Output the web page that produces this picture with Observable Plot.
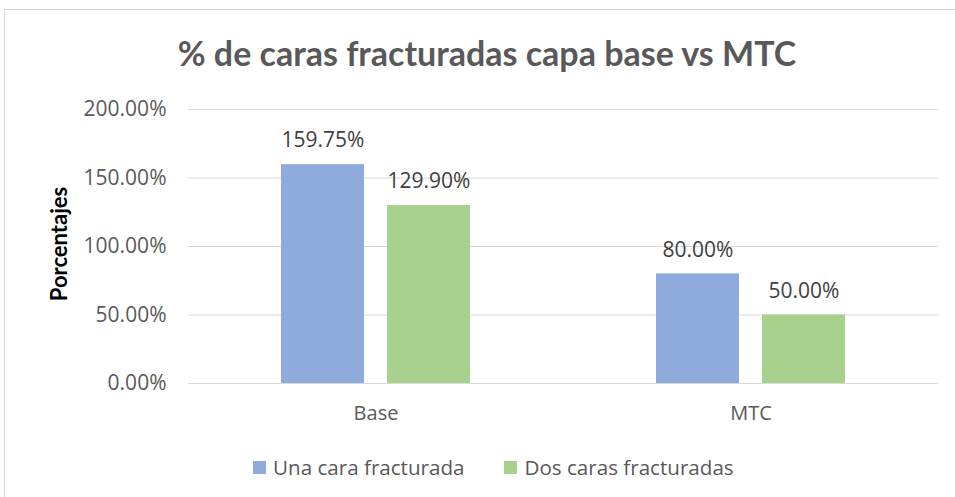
<!DOCTYPE html>
<html>
<head>
<meta charset="utf-8">
<script src="https://cdn.jsdelivr.net/npm/d3@7"></script>
<script src="https://cdn.jsdelivr.net/npm/@observablehq/plot@0.6"></script>
<style>
  body { margin: 0; background: #fff; }
  #wrap { position: relative; width: 955px; height: 497px; overflow: hidden; font-family: "Open Sans", sans-serif; }
  #frame { position: absolute; left: 4px; top: 9px; width: 980px; height: 520px; border: 1px solid #d9d9d9; box-sizing: border-box; }
  #title { position: absolute; left: 0; width: 974px; top: 32px; text-align: center; font-family: Lato, sans-serif; font-weight: bold; font-size: 34px; color: #595959; }
  #ylabel { position: absolute; left: 58px; top: 244px; transform: translate(-50%, -50%) rotate(-90deg); font-family: Lato, sans-serif; font-weight: bold; font-size: 22px; color: #000; white-space: nowrap; }
  #chart { position: absolute; left: 0; top: 0; }
  #legend { position: absolute; top: 453px; left: 253px; font-size: 20.6px; color: #595959; display: flex; align-items: center; white-space: nowrap; }
  .sw { display: inline-block; width: 13px; height: 13px; margin-right: 7px; }
  .item { display: flex; align-items: center; margin-right: 40px; }
</style>
</head>
<body>
<div id="wrap">
  <div id="frame"></div>
  <div id="title">% de caras fracturadas capa base vs MTC</div>
  <div id="chart"></div>
  <div id="ylabel">Porcentajes</div>
  <div id="legend"></div>
</div>
<script>
const categories = ["Base", "MTC"];
const series = ["Una cara fracturada", "Dos caras fracturadas"];
const unaValues = [1.5975, 0.80];
const dosValues = [1.2990, 0.50];
const yTicks = [0, 0.5, 1, 1.5, 2];
const colors = ["#8faadc", "#a9d18e"];

const data = [];
categories.forEach((c, i) => {
  data.push({cat: c, serie: series[0], value: unaValues[i]});
  data.push({cat: c, serie: series[1], value: dosValues[i]});
});

const pct = v => (v * 100).toFixed(2) + "%";

const plot = Plot.plot({
  width: 955,
  height: 497,
  marginLeft: 188,
  marginRight: 17,
  marginTop: 109,
  marginBottom: 114,
  style: { fontFamily: "'Open Sans', sans-serif", background: "transparent" },
  fx: { domain: categories, padding: 0 },
  x: { domain: series, paddingInner: 0.217, paddingOuter: 0.877, axis: null },
  y: { domain: [0, 2], ticks: yTicks, tickFormat: pct },
  color: { domain: series, range: colors },
  marks: [
    Plot.gridY(yTicks, { stroke: "#d9d9d9", strokeOpacity: 1, strokeWidth: 1 }),
    Plot.axisY(yTicks, { tickSize: 0, tickPadding: 22, fontSize: 21, color: "#595959", label: null, tickFormat: pct }),
    Plot.axisFx({ anchor: "bottom", tickSize: 0, tickPadding: 22, fontSize: 20, color: "#595959", label: null }),
    Plot.barY(data, { fx: "cat", x: "serie", y: "value", fill: "serie" }),
    Plot.text(data, { fx: "cat", x: "serie", y: "value", text: d => pct(d.value), dy: -24, lineAnchor: "middle", fontSize: 21, fill: "#404040" })
  ]
});
document.getElementById("chart").appendChild(plot);

const legend = document.getElementById("legend");
series.forEach((s, i) => {
  const item = document.createElement("div");
  item.className = "item";
  const sw = document.createElement("span");
  sw.className = "sw";
  sw.style.background = colors[i];
  const t = document.createElement("span");
  t.textContent = s;
  item.appendChild(sw);
  item.appendChild(t);
  legend.appendChild(item);
});
</script>
</body>
</html>
